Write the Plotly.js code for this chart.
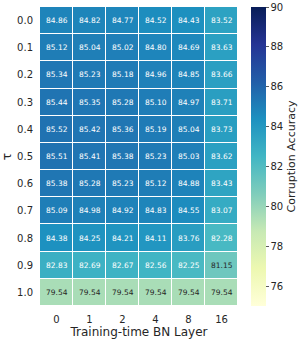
<!DOCTYPE html>
<html><head><meta charset="utf-8">
<script src="https://cdn.plot.ly/plotly-3.0.1.min.js"></script>
<style>html,body{margin:0;padding:0;background:#fff}#c{width:299px;height:339px}</style>
</head><body><div id="c"></div>
<script>
const layers = ["0","1","2","4","8","16"];
const taus = ["0.0","0.1","0.2","0.3","0.4","0.5","0.6","0.7","0.8","0.9","1.0"];
const acc = [
 [84.86,84.82,84.77,84.52,84.43,83.52],
 [85.12,85.04,85.02,84.80,84.69,83.63],
 [85.34,85.23,85.18,84.96,84.85,83.66],
 [85.44,85.35,85.28,85.10,84.97,83.71],
 [85.52,85.42,85.36,85.19,85.04,83.73],
 [85.51,85.41,85.38,85.23,85.03,83.62],
 [85.38,85.28,85.23,85.12,84.88,83.43],
 [85.09,84.98,84.92,84.83,84.55,83.07],
 [84.38,84.25,84.21,84.11,83.76,82.28],
 [82.83,82.69,82.67,82.56,82.25,81.15],
 [79.54,79.54,79.54,79.54,79.54,79.54]
];
const ylgnbu = ["#ffffd9","#edf8b1","#c7e9b4","#7fcdbb","#41b6c4","#1d91c0","#225ea8","#253494","#081d58"];
const cs = ylgnbu.map((c,i)=>[i/(ylgnbu.length-1), c]);
const font = "DejaVu Sans, sans-serif";
const ann = [];
acc.forEach((row,i)=>row.forEach((v,j)=>{
  ann.push({x: j, y: i, text: v.toFixed(2), showarrow:false,
    font:{family:font, size:7.5, color: v < 82 ? "#262626" : "#ffffff"}});
}));
Plotly.newPlot("c", [{
  type:"heatmap", x: layers, y: taus, z: acc, zmin:75, zmax:90,
  colorscale: cs, xgap:1, ygap:1, hoverongaps:false,
  colorbar:{x:1.066, xanchor:"left", xpad:0, ypad:0, y:0.5, yanchor:"middle", len:1, lenmode:"fraction",
    thickness:15, outlinewidth:0, ticks:"outside", ticklen:3, tickwidth:0.8, tickcolor:"#333",
    tickvals:[76,78,80,82,84,86,88,90], tickfont:{family:font, size:10, color:"#262626"},
    title:{text:"Corruption Accuracy", side:"right", font:{family:font, size:11, color:"#262626"}}}
}], {
  width:299, height:339, margin:{l:40, r:61, t:7, b:33, autoexpand:false},
  paper_bgcolor:"#fff", plot_bgcolor:"#fff",
  font:{family:font, color:"#262626"},
  xaxis:{type:"category", showgrid:false, zeroline:false, ticks:"outside", ticklen:4, tickcolor:"rgba(0,0,0,0)",
    tickfont:{family:font, size:10},
    title:{text:"Training-time BN Layer", font:{family:font, size:12}, standoff:2}},
  yaxis:{type:"category", autorange:"reversed", showgrid:false, zeroline:false, ticks:"outside", ticklen:4,
    tickcolor:"rgba(0,0,0,0)", tickfont:{family:font, size:10},
    title:{text:"τ", font:{family:font, size:12}, standoff:4}},
  annotations: ann
}, {displayModeBar:false, staticPlot:true});
</script></body></html>
